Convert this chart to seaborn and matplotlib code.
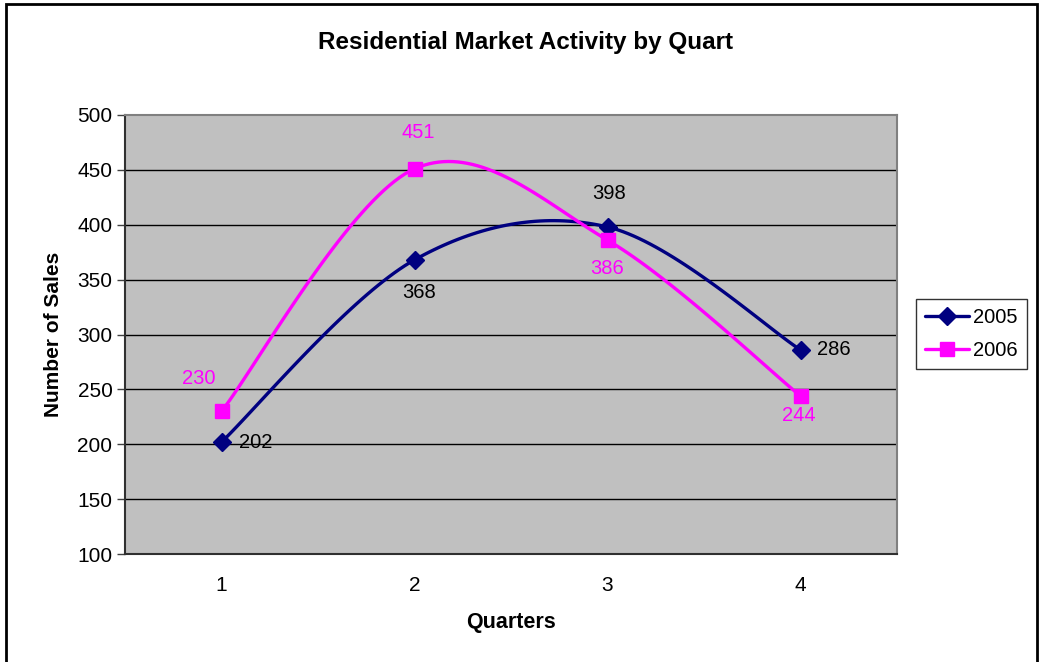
import numpy as np
import pandas as pd
import matplotlib
matplotlib.use("Agg")
import matplotlib.pyplot as plt
from matplotlib.lines import Line2D
from matplotlib.patches import Rectangle
import seaborn as sns

quarters = [1, 2, 3, 4]
sales_2005 = [202, 368, 398, 286]
sales_2006 = [230, 451, 386, 244]
series_names = ["2005", "2006"]
y_ticks = [100, 150, 200, 250, 300, 350, 400, 450, 500]

sns.set_theme(style="white")
plt.rcParams["font.family"] = ["Liberation Sans", "DejaVu Sans"]
plt.rcParams.update({"text.color": "black", "axes.labelcolor": "black",
                     "xtick.color": "black", "ytick.color": "black"})

NAVY = "#000080"
MAGENTA = "#FF00FF"


def smooth(xs, ys, n=40):
    """Catmull-Rom spline through the points (end points duplicated)."""
    P = np.column_stack([xs, ys]).astype(float)
    P = np.vstack([P[0], P, P[-1]])
    out = []
    for i in range(1, len(P) - 2):
        p0, p1, p2, p3 = P[i - 1], P[i], P[i + 1], P[i + 2]
        m1 = (p2 - p0) / 2.0
        m2 = (p3 - p1) / 2.0
        t = np.linspace(0, 1, n, endpoint=(i == len(P) - 3))[:, None]
        h00 = 2 * t**3 - 3 * t**2 + 1
        h10 = t**3 - 2 * t**2 + t
        h01 = -2 * t**3 + 3 * t**2
        h11 = t**3 - t**2
        out.append(h00 * p1 + h10 * m1 + h01 * p2 + h11 * m2)
    pts = np.vstack(out)
    return pts[:, 0], pts[:, 1]


fig = plt.figure(figsize=(10.45, 6.62), dpi=100)
fig.patch.set_facecolor("white")
ax = fig.add_axes([125 / 1045, 1 - 554 / 662, (897 - 125) / 1045, (554 - 115) / 662])
ax.set_facecolor("#C0C0C0")

frames = []
for name, vals in zip(series_names, [sales_2005, sales_2006]):
    sx, sy = smooth(quarters, vals)
    frames.append(pd.DataFrame({"Quarter": sx, "Sales": sy, "Year": name}))
curves = pd.concat(frames, ignore_index=True)

for yv in y_ticks[1:-1]:
    ax.axhline(yv, color="black", lw=1.0, zorder=1)

sns.lineplot(data=curves, x="Quarter", y="Sales", hue="Year", sort=False,
             palette={"2005": NAVY, "2006": MAGENTA}, lw=2.4, legend=False,
             ax=ax, zorder=3, estimator=None)

ax.plot(quarters, sales_2005, linestyle="none", marker="D", ms=9.5,
        color=NAVY, mec=NAVY, zorder=4)
ax.plot(quarters, sales_2006, linestyle="none", marker="s", ms=10.5,
        color=MAGENTA, mec=MAGENTA, zorder=4)

# value labels (offsets in pixels from the marker)
fs = 14.5
off05 = [(34, 0), (5, -33), (2, 33), (33, 0)]
off06 = [(-23, 33), (4, 36), (0, -28), (-2, -20)]
for x, v, (dx, dy) in zip(quarters, sales_2005, off05):
    ax.annotate(str(v), (x, v), xytext=(dx, dy), textcoords="offset pixels",
                ha="center", va="center", fontsize=fs, color="black", zorder=5)
for x, v, (dx, dy) in zip(quarters, sales_2006, off06):
    ax.annotate(str(v), (x, v), xytext=(dx, dy), textcoords="offset pixels",
                ha="center", va="center", fontsize=fs, color=MAGENTA, zorder=5)

ax.set_xlim(0.5, 4.5)
ax.set_ylim(100, 500)
ax.set_yticks(y_ticks)
ax.set_yticklabels([str(v) for v in y_ticks], fontsize=15)
ax.set_xticks(quarters)
ax.set_xticklabels([str(q) for q in quarters], fontsize=15)
ax.set_xticks([0.5, 1.5, 2.5, 3.5, 4.5], minor=True)
ax.tick_params(axis="x", which="major", length=0, pad=16)
ax.tick_params(axis="x", which="minor", length=6, width=1, color="#404040", direction="out")
ax.tick_params(axis="y", length=6, width=1, color="#404040", direction="out", left=True, pad=3)

for side in ["left", "bottom"]:
    ax.spines[side].set_color("#303030")
    ax.spines[side].set_linewidth(1.5)
for side in ["top", "right"]:
    ax.spines[side].set_color("#808080")
    ax.spines[side].set_linewidth(1.5)

ax.set_xlabel("Quarters", fontsize=15.5, fontweight="bold", labelpad=12)
ax.set_ylabel("Number of Sales", fontsize=15, fontweight="bold", labelpad=10)

fig.text(525 / 1045, 1 - 42 / 662, "Residential Market Activity by Quart",
         ha="center", va="center", fontsize=17.5, fontweight="bold")

handles = [Line2D([], [], color=NAVY, lw=2.4, marker="D", ms=9),
           Line2D([], [], color=MAGENTA, lw=2.4, marker="s", ms=10)]
leg = fig.legend(handles, series_names, loc="center left",
                 bbox_to_anchor=(916 / 1045, 1 - 334 / 662), fontsize=14.5,
                 frameon=True, fancybox=False, borderpad=0.45, handlelength=2.2,
                 handletextpad=0.2, labelspacing=0.7, borderaxespad=0)
leg.get_frame().set_edgecolor("black")
leg.get_frame().set_linewidth(1.0)

fig.patches.append(Rectangle((6 / 1045, -0.05), (1037 - 6) / 1045, 1.05 - 4 / 662,
                             transform=fig.transFigure, fill=False,
                             edgecolor="black", lw=2))

fig.savefig("out.png", dpi=100)
